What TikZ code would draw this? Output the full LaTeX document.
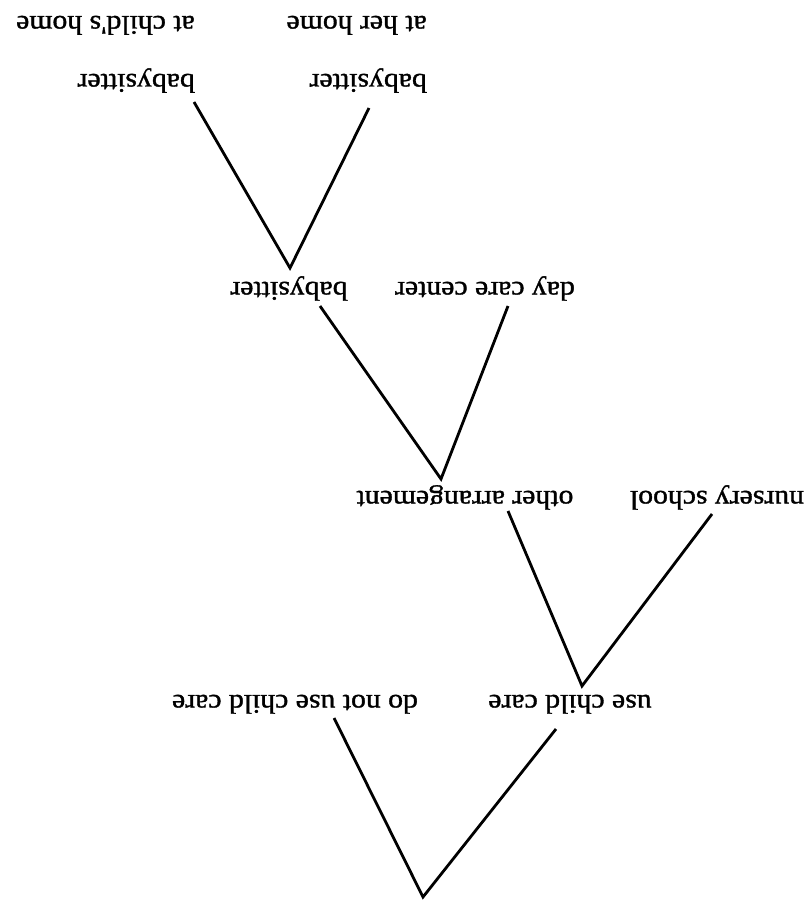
\documentclass[tikz,border=0pt]{standalone}
\usepackage{fontspec}
\setmainfont{Liberation Serif}
\newfontfamily\lblfont[FakeBold=1.2]{Liberation Serif}
\begin{document}
\begin{tikzpicture}[x=1pt,y=-1pt,
  lbl/.style={rotate=180, xscale=1.1, inner sep=0pt, anchor=base,
    font=\lblfont\fontsize{27}{58}\selectfont},
  leaf/.style={lbl, align=left, anchor=north west},
  branch/.style={line width=2.8pt, line join=miter, line cap=butt}]
\useasboundingbox (0,0) rectangle (811,910);
% labels
\node[lbl] (dn) at (295,695) {do not use child care};
\node[lbl] (uc) at (570,695) {use child care};
\node[lbl] (oa) at (465,491) {other arrangement};
\node[lbl] (ns) at (717,491) {nursery school};
\node[lbl] (bs) at (289,282) {babysitter};
\node[lbl] (dc) at (485,282) {day care center};
\node[leaf] (bh) at (427,93) {babysitter\\at her home};
\node[leaf] (bc) at (195,93) {babysitter\\at child's home};
% branch points and line ends
\coordinate (root) at (423,897);
\coordinate (dnE) at (334,718);
\coordinate (ucE) at (556,729);
\coordinate (ucV) at (582,686);
\coordinate (oaE) at (508,511);
\coordinate (nsE) at (712,514);
\coordinate (oaV) at (441,479);
\coordinate (bsE) at (320,306);
\coordinate (dcE) at (508,306);
\coordinate (bsV) at (290,268);
\coordinate (bcE) at (194,102);
\coordinate (bhE) at (369,108);
% connectors
\draw[branch] (dnE) -- (root) -- (ucE);
\draw[branch] (oaE) -- (ucV) -- (nsE);
\draw[branch] (bsE) -- (oaV) -- (dcE);
\draw[branch] (bcE) -- (bsV) -- (bhE);
\end{tikzpicture}
\end{document}
